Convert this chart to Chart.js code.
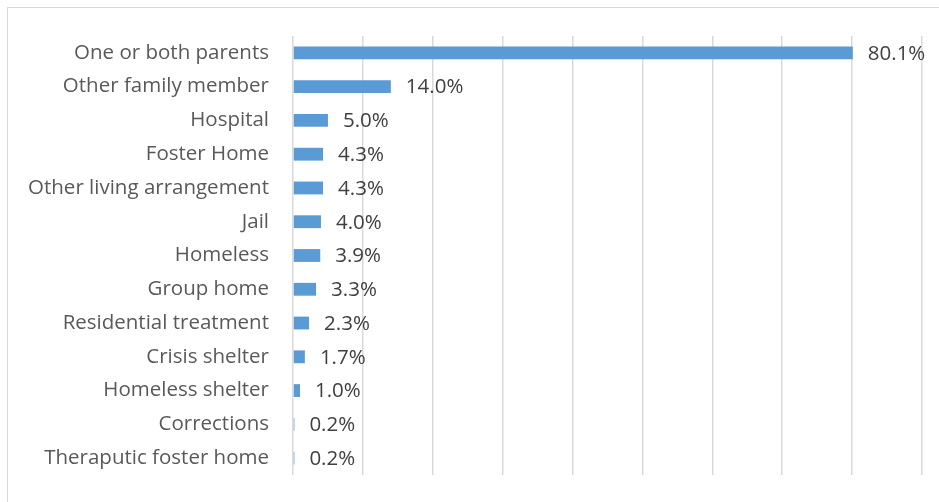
<!DOCTYPE html>
<html>
<head>
<meta charset="utf-8">
<script src="https://cdn.jsdelivr.net/npm/chart.js@4/dist/chart.umd.min.js"></script>
<style>
    html, body { margin: 0; padding: 0; background: #fff; }
    #wrap { position: relative; width: 939px; height: 502px; overflow: hidden; }
    #frame { position: absolute; left: 7px; top: 7px; width: 1000px; height: 600px;
             border-top: 1px solid #d9d9d9; border-left: 1px solid #d9d9d9; }
    canvas { position: absolute; left: 0; top: 0; }
</style>
</head>
<body>
<div id="wrap">
    <div id="frame"></div>
    <canvas id="myChart" width="939" height="502"></canvas>
</div>
<script>
    'use strict';

    var placements = [
        'One or both parents',
        'Other family member',
        'Hospital',
        'Foster Home',
        'Other living arrangement',
        'Jail',
        'Homeless',
        'Group home',
        'Residential treatment',
        'Crisis shelter',
        'Homeless shelter',
        'Corrections',
        'Theraputic foster home'
    ];
    var percents = [80.1, 14.0, 5.0, 4.3, 4.3, 4.0, 3.9, 3.3, 2.3, 1.7, 1.0, 0.2, 0.2];

    var fontFamily = '"Open Sans", sans-serif';
    var fontSize = 20.5;

    // writes the percentage just past the end of each bar
    var valueLabels = {
        id: 'valueLabels',
        afterDatasetsDraw: function (chart) {
            var ctx = chart.ctx;
            var meta = chart.getDatasetMeta(0);
            ctx.save();
            ctx.font = fontSize + 'px ' + fontFamily;
            ctx.fillStyle = '#404040';
            ctx.textAlign = 'left';
            ctx.textBaseline = 'middle';
            meta.data.forEach(function (bar, i) {
                ctx.fillText(percents[i].toFixed(1) + '%', bar.x + 15, bar.y + 1);
            });
            ctx.restore();
        }
    };

    new Chart(document.getElementById('myChart'), {
        type: 'bar',
        data: {
            labels: placements,
            datasets: [{
                data: percents,
                backgroundColor: '#5b9bd5',
                borderWidth: 0,
                barPercentage: 0.38,
                categoryPercentage: 1
            }]
        },
        options: {
            indexAxis: 'y',
            responsive: false,
            animation: false,
            layout: {
                padding: { top: 36, right: 17, bottom: 27, left: 0 }
            },
            plugins: {
                legend: { display: false },
                tooltip: { enabled: false }
            },
            scales: {
                x: {
                    min: 0,
                    max: 90,
                    afterFit: function (scale) { scale.height = 0; },
                    ticks: { display: false, stepSize: 10 },
                    grid: { color: '#d9d9d9', lineWidth: 1.5, drawTicks: false },
                    border: { display: false }
                },
                y: {
                    afterFit: function (scale) {
                        // fixed label column; the layout padding sets the top and bottom
                        scale.width = 293;
                        scale.paddingTop = 0;
                        scale.paddingBottom = 0;
                    },
                    ticks: {
                        padding: 24,
                        color: '#595959',
                        font: { family: fontFamily, size: fontSize }
                    },
                    grid: { display: false, drawTicks: false },
                    border: { display: false }
                }
            }
        },
        plugins: [valueLabels]
    });
</script>
</body>
</html>
